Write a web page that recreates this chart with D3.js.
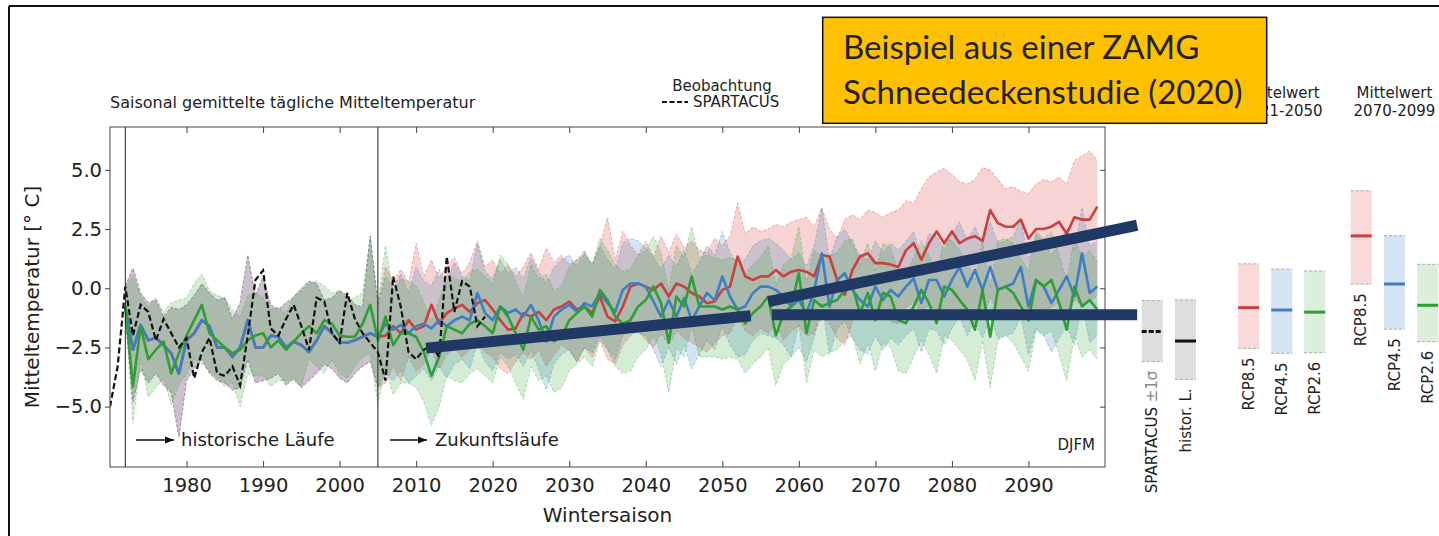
<!DOCTYPE html>
<html><head><meta charset="utf-8">
<script src="https://cdn.jsdelivr.net/npm/d3@7"></script>
<style>body{margin:0;background:#fff} svg{display:block} text{font-family:"DejaVu Sans",sans-serif;fill:#222}</style>
</head><body><svg id="c" width="1439" height="536"></svg>
<script>
// ---------------- data ----------------
const spartacusStart = 1970;
const spartacus = [-5.0,-3.3,0.07,-2.0,-0.7,-1.0,-2.2,-1.3,-1.9,-2.5,
  -2.1,-3.8,-2.7,-2.1,-3.6,-3.7,-3.3,-4.1,-2.0,0.35,
  0.75,-1.7,-2.0,-1.3,-0.7,-1.6,-2.6,-0.4,-0.56,-1.9,
  -2.3,-0.2,-1.3,-1.9,-2.3,-2.7,-3.9,0.5,-0.8,-2.7,
  -3.0,-2.6,-2.4,-2.9,1.34,-1.0,0.3,0.07,-1.6,-1.2];

const histStart = 1972;
const histRB = [-0.77,-2.6,-1.55,-2.2,-2.1,-2.4,-2.75,-3.6,-2.2,-1.9,
  -1.35,-1.6,-2.5,-2.5,-2.9,-2.5,-1.35,-2.5,-2.5,-2.0,
  -2.05,-2.5,-2.25,-2.4,-2.7,-2.2,-1.6,-1.9,-2.3,-2.3,
  -2.2,-2.05,-1.9,-2.05];
const histRBHi = [0.1,0.85,-0.2,-0.6,-0.5,-1.2,-0.8,-0.9,-0.7,-0.3,
  0.2,-0.2,-0.5,-0.4,-1.3,-0.6,1.4,-0.3,0.5,-0.7,
  -0.9,-0.6,-0.4,0.0,0.3,0.2,-0.5,-0.4,-0.1,-0.3,
  -0.7,-0.8,2.2,-0.7];
const histRBLo = [-1.2,-4.8,-3.4,-4.0,-3.6,-4.1,-4.4,-6.3,-3.9,-3.4,
  -3.0,-3.6,-3.9,-4.0,-4.3,-4.2,-3.0,-4.0,-3.9,-3.8,
  -3.6,-4.1,-3.8,-4.2,-3.9,-3.6,-3.2,-3.4,-3.8,-4.0,
  -3.6,-3.3,-3.1,-4.2];
const histG = [-0.77,-4.15,-1.6,-3.0,-2.6,-2.25,-3.6,-2.75,-2.0,-1.35,
  -0.7,-1.9,-2.2,-2.5,-2.75,-2.6,-2.2,-2.0,-1.9,-2.5,
  -2.2,-2.6,-2.25,-1.9,-1.6,-1.9,-1.35,-1.5,-2.0,-2.05,
  -2.05,-1.5,-0.7,-2.2];
const histGHi = [0.1,0.5,-0.3,-0.8,-0.4,-1.0,-0.6,-0.5,-0.4,0.2,
  0.6,-0.1,-0.3,-0.4,-0.9,-1.2,-0.3,-0.2,-0.4,-0.9,
  -0.8,-1.1,-0.3,-0.1,0.2,0.3,0.1,-0.2,-0.1,-0.5,
  -0.4,-0.2,2.2,-0.6];
const histGLo = [-1.0,-5.7,-3.0,-4.6,-4.2,-3.8,-4.9,-4.1,-3.6,-3.0,
  -3.2,-3.5,-3.8,-4.15,-4.0,-5.0,-3.6,-3.7,-3.7,-4.15,
  -3.9,-3.9,-3.9,-4.15,-3.0,-3.3,-3.6,-3.0,-3.6,-3.8,
  -3.3,-2.9,-2.75,-4.9];

const futStart = 2006;
const rcp85 = [-2.0,-1.6,-1.9,-1.35,-1.75,-1.6,-0.7,-1.5,-1.05,-0.85,
  -0.7,-1.0,-0.63,-0.5,-0.9,-1.35,-1.75,-1.7,-1.05,-1.2,
  -1.0,-1.35,-0.9,-0.77,-0.56,-0.9,-0.77,-1.05,-0.35,-1.2,
  -1.4,-0.77,0.07,0.2,0.07,-0.07,0.2,-0.35,0.2,0.07,
  -0.2,-0.35,-0.63,-0.56,-0.07,0.07,1.34,0.5,0.35,0.5,
  0.5,0.77,0.5,0.7,0.77,0.7,0.5,1.4,1.34,0.35,
  -0.28,0.77,1.34,1.48,1.06,1.06,1.0,0.9,1.6,1.9,
  1.2,1.9,2.4,1.9,2.4,1.9,2.1,2.2,2.0,3.3,
  2.75,2.6,2.6,2.9,2.1,2.5,2.5,2.6,2.8,2.3,
  3.0,2.9,2.9,3.45];
const rcp85Hi = [0.9,0.3,0.8,0.2,1.9,0.5,1.2,0.4,1.0,1.3,
  0.6,1.1,2.0,0.9,1.2,0.6,1.0,0.5,0.9,1.5,
  0.8,1.7,1.1,1.4,1.0,1.2,1.6,0.9,1.8,3.0,
  1.2,2.4,1.8,1.4,2.0,1.3,2.2,1.5,2.3,1.7,
  2.0,1.6,1.5,2.1,1.8,2.2,3.6,2.3,2.6,2.4,
  2.5,2.7,2.6,2.8,2.9,3.0,2.6,3.4,2.5,2.1,
  2.9,3.1,2.9,3.3,3.2,3.0,3.2,3.3,3.7,3.6,
  4.2,4.7,4.9,5.07,4.8,4.5,4.4,4.6,5.1,5.0,
  4.6,4.2,4.3,4.1,4.0,4.4,4.6,4.5,4.7,4.4,
  5.4,5.6,5.8,5.4];
const rcp85Lo = [-4.0,-3.3,-3.9,-2.9,-3.5,-3.2,-2.6,-3.4,-2.8,-2.5,
  -2.9,-2.6,-2.2,-2.7,-2.9,-3.4,-3.6,-3.1,-2.7,-3.0,
  -2.6,-3.3,-2.8,-2.4,-2.6,-3.1,-2.5,-2.9,-2.2,-3.0,
  -3.2,-2.4,-2.0,-1.8,-2.2,-2.5,-1.9,-2.4,-1.8,-2.1,
  -2.3,-2.5,-2.7,-2.3,-2.0,-1.9,-1.2,-1.8,-2.0,-1.7,
  -1.9,-1.5,-2.2,-1.8,-1.6,-2.0,-1.9,-1.2,-1.5,-2.1,
  -2.4,-1.4,-1.0,-0.9,-1.3,-1.1,-1.4,-1.5,-0.8,-0.6,
  -1.0,-0.7,-0.9,-1.1,-0.8,-1.2,-1.0,-0.9,-1.2,-0.4,
  -0.9,-1.1,-1.0,-0.7,-1.4,-1.0,-0.9,-0.8,-0.6,-1.2,
  -0.5,-0.7,-0.6,-0.3];
const rcp45 = [-1.5,-1.75,-1.55,-1.9,-1.6,-1.5,-1.7,-1.35,-1.6,-1.35,
  -1.2,-1.35,-0.2,-1.05,-1.35,-0.77,-1.05,-0.9,-1.2,-0.7,
  -1.35,-2.25,-1.2,-0.9,-0.7,-1.0,-0.63,-0.77,-0.2,-0.63,
  -1.0,-0.07,0.2,0.2,0.07,-0.56,-1.2,-0.5,-1.2,-0.42,
  -1.35,-0.77,-0.2,-0.5,0.5,-0.35,-0.9,-0.77,-0.2,0.07,
  0.07,-0.07,-0.35,-0.77,-0.5,-1.05,-0.1,1.48,-0.77,0.35,
  0.63,-0.07,-0.5,-0.77,0.07,-0.5,-0.07,-0.35,0.07,0.42,
  -0.63,0.35,0.35,-0.35,0.35,0.9,0.07,0.77,-0.07,0.9,
  -0.07,0.07,0.2,0.9,-0.77,0.35,0.07,-0.63,-0.07,0.5,
  -0.35,1.48,-0.2,0.07];
const rcp45Hi = [0.5,0.0,0.6,-0.2,0.9,0.3,0.1,0.8,0.2,1.1,
  0.5,0.3,1.9,0.7,0.4,1.2,0.6,0.9,0.4,1.3,
  0.7,0.2,0.9,1.2,1.4,0.9,1.5,1.0,1.8,1.2,
  0.8,1.9,2.1,2.0,1.7,1.3,0.8,1.4,0.9,1.6,
  0.6,1.1,1.8,1.4,2.4,1.5,1.0,1.2,1.8,2.0,
  2.1,1.9,1.6,1.2,1.5,0.9,1.8,3.4,1.2,2.2,
  2.5,1.9,1.4,1.2,2.0,1.5,1.9,1.6,2.0,2.4,
  1.3,2.3,2.2,1.6,2.3,2.8,2.0,2.6,1.9,2.8,
  1.9,2.0,2.2,2.9,1.2,2.3,2.0,1.4,1.9,2.5,
  1.6,3.4,1.8,2.0];
const rcp45Lo = [-3.6,-3.9,-3.5,-4.0,-3.7,-3.4,-3.9,-3.3,-3.8,-3.2,
  -3.0,-3.4,-2.3,-3.1,-3.5,-2.7,-3.0,-2.8,-3.3,-2.6,
  -3.4,-4.3,-3.2,-2.8,-2.6,-3.1,-2.5,-2.7,-2.0,-2.6,
  -3.0,-2.0,-1.8,-1.9,-2.0,-2.6,-3.3,-2.5,-3.2,-2.4,
  -3.4,-2.8,-2.2,-2.6,-1.6,-2.4,-2.9,-2.8,-2.2,-1.9,
  -2.0,-2.1,-2.4,-2.9,-2.5,-3.1,-2.1,-0.6,-2.8,-1.7,
  -1.4,-2.1,-2.6,-2.8,-2.0,-2.6,-2.1,-2.4,-2.0,-1.7,
  -2.7,-1.7,-1.8,-2.4,-1.7,-1.2,-2.0,-1.4,-2.1,-1.2,
  -2.1,-2.0,-1.9,-1.2,-2.8,-1.7,-2.0,-2.7,-2.1,-1.6,
  -2.4,-0.6,-2.3,-2.0];
const rcp26 = [-1.2,-2.4,-1.9,-1.9,-2.05,-2.7,-3.7,-2.9,-1.6,-1.75,
  -1.9,-1.5,-1.35,-1.6,-1.9,-0.77,-1.2,-1.9,-2.6,-1.2,
  -1.75,-1.6,-2.25,-2.05,-1.35,-1.05,-0.77,-1.2,-0.07,-0.5,
  -1.2,-1.5,-1.35,-0.77,-0.5,0.07,-0.63,-2.3,-0.35,-0.77,
  0.5,-0.77,-0.77,-0.77,-0.9,-0.77,-0.9,-1.5,-1.05,-0.77,
  -0.35,-2.0,-1.05,-0.77,0.63,-1.9,-0.5,-0.77,-0.63,-0.5,
  -0.07,0.07,-1.05,-0.2,-1.35,-0.2,-0.35,-1.35,-1.48,-0.77,
  -0.07,-0.63,-1.48,0.07,-0.07,-0.5,-0.9,-1.75,-0.07,-2.05,
  -0.07,0.07,-0.2,-0.77,-1.35,0.35,0.07,0.35,-0.63,-1.75,
  0.07,-0.77,-0.5,-0.9];
const rcp26Hi = [1.8,-0.2,0.4,0.3,0.1,-0.6,-1.4,-0.5,0.6,0.4,
  0.3,0.7,0.8,0.5,0.2,1.4,1.0,0.3,-0.4,1.0,
  0.4,0.6,-0.1,0.1,0.9,1.2,1.4,1.0,2.1,1.6,
  1.0,0.7,0.8,1.4,1.6,2.2,1.5,-0.1,1.8,1.3,
  2.6,1.3,1.4,1.3,1.2,1.3,1.2,0.6,1.0,1.3,
  1.8,0.1,1.0,1.3,2.6,0.2,1.6,1.3,1.4,1.5,
  2.0,2.1,1.0,1.9,0.7,1.9,1.7,0.7,0.6,1.3,
  2.0,1.4,0.6,2.1,2.0,1.6,1.1,0.3,2.0,0.0,
  2.0,2.1,1.9,1.3,0.7,2.4,2.1,2.4,1.4,0.3,
  2.1,1.3,1.6,1.1];
const rcp26Lo = [-3.3,-4.5,-4.0,-4.0,-4.2,-4.8,-5.8,-5.0,-3.7,-3.9,
  -4.0,-3.6,-3.4,-3.7,-4.0,-2.9,-3.3,-4.0,-4.7,-3.3,
  -3.9,-3.7,-4.4,-4.2,-3.5,-3.2,-2.9,-3.3,-2.2,-2.6,
  -3.3,-3.6,-3.5,-2.9,-2.6,-2.0,-2.8,-4.4,-2.5,-2.9,
  -1.6,-2.9,-2.9,-2.9,-3.0,-2.9,-3.0,-3.6,-3.2,-2.9,
  -2.5,-4.1,-3.2,-2.9,-1.5,-4.0,-2.6,-2.9,-2.7,-2.6,
  -2.2,-2.0,-3.2,-2.3,-3.5,-2.3,-2.5,-3.5,-3.6,-2.9,
  -2.2,-2.8,-3.6,-2.0,-2.2,-2.6,-3.0,-3.9,-2.2,-4.2,
  -2.2,-2.0,-2.3,-2.9,-3.5,-1.8,-2.0,-1.8,-2.8,-3.9,
  -2.0,-2.9,-2.6,-3.0];

const xTicks = [1980,1990,2000,2010,2020,2030,2040,2050,2060,2070,2080,2090];
const yTicks = [5.0,2.5,0.0,-2.5,-5.0];
const periodMarks = [1972,2005];

const obsLabels = ["SPARTACUS", "histor. L."];
const obsMean = [-1.83,-2.23];
const obsLo = [-3.10,-3.85];
const obsHi = [-0.52,-0.49];
const scenLabels = ["RCP8.5","RCP4.5","RCP2.6"];
const periodLabels = ["2021-2050","2070-2099"];
const mean2021 = [-0.82,-0.92,-1.01];
const lo2021 = [-2.54,-2.75,-2.72];
const hi2021 = [1.03,0.81,0.73];
const mean2070 = [2.21,0.18,-0.72];
const lo2070 = [0.17,-1.73,-2.26];
const hi2070 = [4.12,2.22,1.01];

// annotation overlay lines (year, °C)
const overlayLines = [
  [[2011.3,-2.53],[2053.7,-1.16]],
  [[2056.0,-0.57],[2104.2,2.66]],
  [[2056.5,-1.12],[2104.2,-1.12]]
];

// ---------------- drawing ----------------
const svg = d3.select("#c");
const x = d3.scaleLinear().domain([1970,2100]).range([110,1105]);
const y = d3.scaleLinear().domain([-7.55,6.81]).range([467,127]);

const COL = {r:"#c9403f", b:"#3d7ec4", g:"#2f9e35"};
const FILL = {r:"rgb(214,39,40)", b:"rgb(31,119,180)", g:"rgb(44,160,44)"};
const LIGHT = {r:"#f8dada", b:"#d6e5f6", g:"#dbefdb"};

svg.append("defs").append("clipPath").attr("id","pc")
  .append("rect").attr("x",110).attr("y",127).attr("width",995).attr("height",340);

const ser = (start, vals) => vals.map((v,i)=>({yr:start+i, v}));
const bnd = (start, lo, hi) => lo.map((l,i)=>({yr:start+i, lo:l, hi:hi[i]}));

const bands = {
  r: bnd(histStart, histRBLo, histRBHi).concat(bnd(futStart, rcp85Lo, rcp85Hi)),
  b: bnd(histStart, histRBLo, histRBHi).concat(bnd(futStart, rcp45Lo, rcp45Hi)),
  g: bnd(histStart, histGLo, histGHi).concat(bnd(futStart, rcp26Lo, rcp26Hi))
};
const lines = {
  r: ser(histStart, histRB).concat(ser(futStart, rcp85)),
  b: ser(histStart, histRB).concat(ser(futStart, rcp45)),
  g: ser(histStart, histG).concat(ser(futStart, rcp26))
};

const plot = svg.append("g").attr("clip-path","url(#pc)");
const area = d3.area().x(d=>x(d.yr)).y0(d=>y(d.lo)).y1(d=>y(d.hi));
const ln = d3.line().x(d=>x(d.yr)).y(d=>y(d.v));
const loL = d3.line().x(d=>x(d.yr)).y(d=>y(d.lo));
const hiL = d3.line().x(d=>x(d.yr)).y(d=>y(d.hi));

["r","b","g"].forEach(k=>{
  plot.append("path").attr("d",area(bands[k])).attr("fill",FILL[k]).attr("fill-opacity",0.2);
});
["r","b","g"].forEach(k=>{
  [loL,hiL].forEach(f=>plot.append("path").attr("d",f(bands[k])).attr("fill","none")
    .attr("stroke",FILL[k]).attr("stroke-opacity",0.35).attr("stroke-width",1).attr("stroke-dasharray","3,2"));
});
["r","b","g"].forEach(k=>{
  plot.append("path").attr("d",ln(lines[k])).attr("fill","none").attr("stroke",COL[k])
    .attr("stroke-width",2.6).attr("stroke-linejoin","round");
});
plot.append("path").attr("d",ln(ser(spartacusStart, spartacus))).attr("fill","none")
  .attr("stroke","#111").attr("stroke-width",2.2).attr("stroke-dasharray","6,3");

periodMarks.forEach(yr=>{
  svg.append("line").attr("x1",x(yr)).attr("x2",x(yr)).attr("y1",127).attr("y2",467)
    .attr("stroke","#222").attr("stroke-width",1);
});

// axes
const fmt = d3.format(".1f");
function styleAxis(g){ g.select(".domain").remove(); g.selectAll(".tick line").attr("stroke","#444");
  g.selectAll("text").style("font-family","DejaVu Sans").style("font-size","19.5px").attr("fill","#222"); }
svg.append("g").attr("transform","translate(0,467)")
  .call(d3.axisBottom(x).tickValues(xTicks).tickFormat(d3.format("d")).tickSize(-6).tickPadding(11)).call(styleAxis);
svg.append("g").attr("transform","translate(0,127)")
  .call(d3.axisTop(x).tickValues(xTicks).tickFormat("").tickSize(-6)).call(styleAxis);
svg.append("g").attr("transform","translate(110,0)")
  .call(d3.axisLeft(y).tickValues(yTicks).tickFormat(fmt).tickSize(5).tickPadding(3)).call(styleAxis);
svg.append("g").attr("transform","translate(1105,0)")
  .call(d3.axisRight(y).tickValues(yTicks).tickFormat("").tickSize(-5)).call(styleAxis);
svg.append("rect").attr("x",110).attr("y",127).attr("width",995).attr("height",340)
  .attr("fill","none").attr("stroke","#444").attr("stroke-width",1);

svg.append("text").attr("x",607.5).attr("y",522).attr("text-anchor","middle").style("font-size","20px").text("Wintersaison");
svg.append("text").attr("transform","translate(39,297) rotate(-90)").attr("text-anchor","middle").style("font-size","20px").text("Mitteltemperatur [° C]");
svg.append("text").attr("x",110).attr("y",108).style("font-size","16px").text("Saisonal gemittelte tägliche Mitteltemperatur");

// legend
svg.append("text").attr("x",722).attr("y",91).attr("text-anchor","middle").style("font-size","15px").text("Beobachtung");
svg.append("line").attr("x1",662).attr("x2",688).attr("y1",102).attr("y2",102).attr("stroke","#111").attr("stroke-width",2).attr("stroke-dasharray","5,2.5");
svg.append("text").attr("x",693).attr("y",107).style("font-size","15px").text("SPARTACUS");

// in-plot annotations
svg.append("defs").append("marker").attr("id","ah").attr("viewBox","0 0 10 10").attr("refX",10).attr("refY",5)
  .attr("markerWidth",9).attr("markerHeight",9).attr("markerUnits","userSpaceOnUse").attr("orient","auto")
  .append("path").attr("d","M0,1 L10,5 L0,9 z").attr("fill","#111");
[[136,174,181,"historische Läufe"],[390,427,435,"Zukunftsläufe"]].forEach(a=>{
  svg.append("line").attr("x1",a[0]).attr("x2",a[1]).attr("y1",440).attr("y2",440).attr("stroke","#111").attr("stroke-width",1.3).attr("marker-end","url(#ah)");
  svg.append("text").attr("x",a[2]).attr("y",446).style("font-size","18px").text(a[3]);
});
svg.append("text").attr("x",1095).attr("y",450).attr("text-anchor","end").style("font-size","15px").text("DJFM");

// right panels
const BW = 21;
function drawBox(cx, lo, hi, mean, light, stroke, dashedMean, label){
  svg.append("rect").attr("x",cx-BW/2).attr("y",y(hi)).attr("width",BW).attr("height",y(lo)-y(hi)).attr("fill",light);
  [hi,lo].forEach(v=>svg.append("line").attr("x1",cx-BW/2).attr("x2",cx+BW/2).attr("y1",y(v)).attr("y2",y(v))
    .attr("stroke","#aaa").attr("stroke-width",1).attr("stroke-dasharray","3,2"));
  svg.append("line").attr("x1",cx-BW/2).attr("x2",cx+BW/2).attr("y1",y(mean)).attr("y2",y(mean))
    .attr("stroke",stroke).attr("stroke-width",3).attr("stroke-dasharray",dashedMean?"5,2":null);
  const t = svg.append("text").attr("transform",`translate(${cx},${y(lo)+9}) rotate(-90)`).attr("text-anchor","end")
    .attr("dy","0.35em").style("font-size","15px");
  if(label === "SPARTACUS"){ t.append("tspan").text("SPARTACUS "); t.append("tspan").attr("fill","#888").text("±1σ"); }
  else t.text(label);
}
const xObs = d3.scalePoint().domain(obsLabels).range([1152.2,1185.5]);
obsLabels.forEach((l,i)=>drawBox(xObs(l), obsLo[i], obsHi[i], obsMean[i], "#dedede", "#111", i===0, l));
const sc = [COL.r, COL.b, COL.g], lt = [LIGHT.r, LIGHT.b, LIGHT.g];
const groups = [
  {scale:d3.scalePoint().domain(scenLabels).range([1248.7,1314.7]), lo:lo2021, hi:hi2021, mean:mean2021, label:periodLabels[0]},
  {scale:d3.scalePoint().domain(scenLabels).range([1361.2,1427.7]), lo:lo2070, hi:hi2070, mean:mean2070, label:periodLabels[1]}
];
groups.forEach(gp=>{
  scenLabels.forEach((l,i)=>drawBox(gp.scale(l), gp.lo[i], gp.hi[i], gp.mean[i], lt[i], sc[i], false, l));
  const cx = gp.scale(scenLabels[1]);
  svg.append("text").attr("x",cx).attr("y",98).attr("text-anchor","middle").style("font-size","15px").text("Mittelwert");
  svg.append("text").attr("x",cx).attr("y",116).attr("text-anchor","middle").style("font-size","15px").text(gp.label);
});

// overlay annotation lines
overlayLines.forEach(p=>{
  svg.append("line").attr("x1",x(p[0][0])).attr("y1",y(p[0][1])).attr("x2",x(p[1][0])).attr("y2",y(p[1][1]))
    .attr("stroke","#1f3864").attr("stroke-width",11);
});

// orange note box
svg.append("rect").attr("x",822.7).attr("y",17.3).attr("width",444).attr("height",106)
  .attr("fill","#FFC000").attr("stroke","#111").attr("stroke-width",1.5);
svg.append("text").attr("x",843).attr("y",59).style("font-family","Lato").style("font-size","33px").attr("fill","#111").text("Beispiel aus einer ZAMG");
svg.append("text").attr("x",843).attr("y",104).style("font-family","Lato").style("font-size","33px").attr("fill","#111").text("Schneedeckenstudie (2020)");

// picture frame
svg.append("line").attr("x1",9).attr("x2",9).attr("y1",6).attr("y2",536).attr("stroke","#111").attr("stroke-width",2);
svg.append("line").attr("x1",9).attr("x2",1439).attr("y1",6).attr("y2",6).attr("stroke","#111").attr("stroke-width",2);
</script></body></html>
